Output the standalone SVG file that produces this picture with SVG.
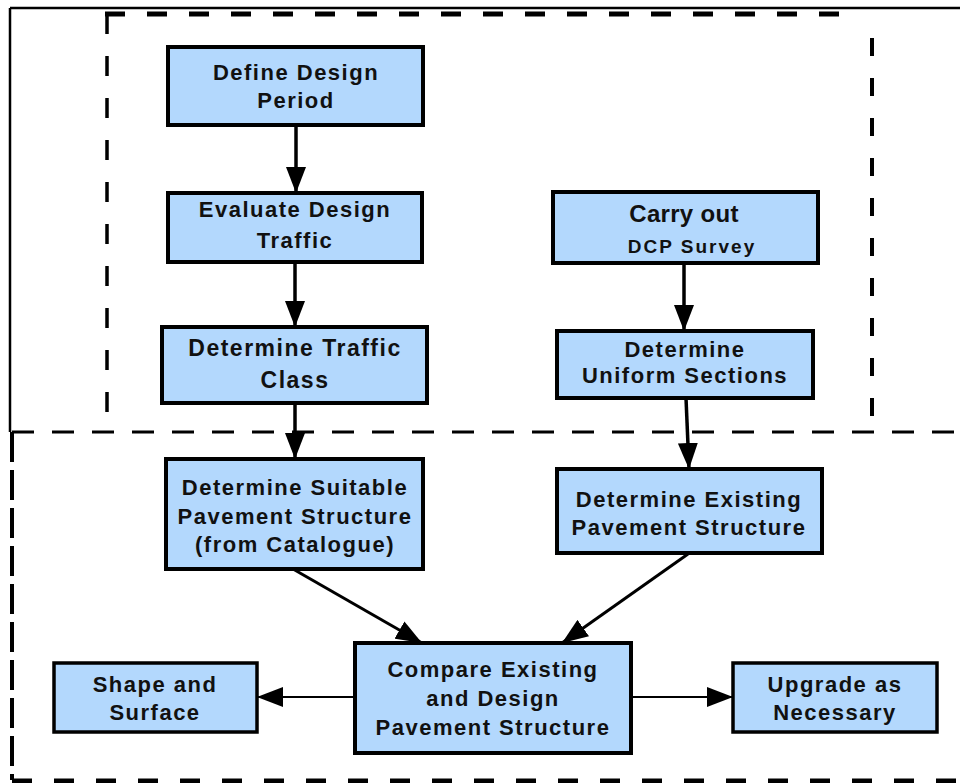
<svg xmlns="http://www.w3.org/2000/svg" width="960" height="783" viewBox="0 0 960 783">
<style>
.box{fill:#b3d8fd;stroke:#000;stroke-width:4}
.t{font-family:"Liberation Sans",Arial,sans-serif;font-weight:bold;font-size:22px;letter-spacing:1.5px;text-anchor:middle;fill:#111}
.dash{fill:none;stroke:#000}
.c{fill:none;stroke:#000}
</style>
<defs>
<marker id="ah" markerUnits="userSpaceOnUse" markerWidth="26" markerHeight="20" refX="26" refY="10" orient="auto" viewBox="0 0 26 20">
<path d="M0,0 L26,10 L0,20 z" fill="#000"/>
</marker>
</defs>
<rect width="960" height="783" fill="#fff"/>
<g id="frames">
<path class="dash" d="M10,8 H960 M10,8 V432" stroke-width="2.5"/>
<path class="dash" d="M105,14 H860" stroke-width="5" stroke-dasharray="20 22"/>
<path class="dash" d="M107,14 V415" stroke-width="3.5" stroke-dasharray="20 22"/>
<path class="dash" d="M872,38 V432" stroke-width="4" stroke-dasharray="18 22"/>
<path class="dash" d="M12,432 H960" stroke-width="3" stroke-dasharray="22 18"/>
<path class="dash" d="M12,432 V780" stroke-width="4" stroke-dasharray="30 8"/>
<path class="dash" d="M12,781 H960" stroke-width="5" stroke-dasharray="20 22"/>
</g>
<g id="connectors">
<line class="c" x1="296" y1="125" x2="296" y2="193" stroke-width="3.5" marker-end="url(#ah)"/>
<line class="c" x1="295" y1="262" x2="295" y2="327" stroke-width="3.5" marker-end="url(#ah)"/>
<line class="c" x1="295" y1="403" x2="295" y2="459" stroke-width="3.5" marker-end="url(#ah)"/>
<line class="c" x1="684" y1="263" x2="684" y2="331" stroke-width="3.5" marker-end="url(#ah)"/>
<line class="c" x1="686" y1="398" x2="689" y2="469" stroke-width="3.5" marker-end="url(#ah)"/>
<line class="c" x1="293" y1="569" x2="422" y2="643" stroke-width="3" marker-end="url(#ah)"/>
<line class="c" x1="688" y1="554" x2="562" y2="643" stroke-width="3" marker-end="url(#ah)"/>
<line class="c" x1="355" y1="697" x2="257" y2="697" stroke-width="2" marker-end="url(#ah)"/>
<line class="c" x1="631" y1="697" x2="733" y2="697" stroke-width="2" marker-end="url(#ah)"/>
</g>
<g id="n1"><rect class="box" x="168" y="47" width="255" height="78"/>
<text class="t" x="296" y="80">Define Design</text><text class="t" x="296" y="108">Period</text></g>
<g id="n2"><rect class="box" x="168" y="193" width="254" height="69"/>
<text class="t" x="295" y="217">Evaluate Design</text><text class="t" x="295" y="248">Traffic</text></g>
<g id="n3"><rect class="box" x="162" y="327" width="265" height="76"/>
<text class="t" x="295" y="356" style="font-size:23px">Determine Traffic</text><text class="t" x="295" y="388" style="font-size:23px">Class</text></g>
<g id="n4"><rect class="box" x="166" y="459" width="257" height="110"/>
<text class="t" x="295" y="495">Determine Suitable</text><text class="t" x="295" y="524">Pavement Structure</text><text class="t" x="295" y="552">(from Catalogue)</text></g>
<g id="n5"><rect class="box" x="553" y="192" width="265" height="71"/>
<text class="t" x="684" y="222" style="font-size:24px;letter-spacing:0.3px">Carry out</text><text class="t" x="692" y="253" style="font-size:19px;letter-spacing:2px">DCP Survey</text></g>
<g id="n6"><rect class="box" x="557" y="331" width="256" height="67"/>
<text class="t" x="685" y="357">Determine</text><text class="t" x="685" y="383">Uniform Sections</text></g>
<g id="n7"><rect class="box" x="557" y="469" width="265" height="84"/>
<text class="t" x="689" y="507">Determine Existing</text><text class="t" x="689" y="535">Pavement Structure</text></g>
<g id="n8"><rect class="box" x="355" y="643" width="276" height="110"/>
<text class="t" x="493" y="677">Compare Existing</text><text class="t" x="493" y="706">and Design</text><text class="t" x="493" y="735">Pavement Structure</text></g>
<g id="n9"><rect class="box" x="54" y="663" width="203" height="69" style="stroke-width:3.5px"/>
<text class="t" x="155" y="692">Shape and</text><text class="t" x="155" y="720">Surface</text></g>
<g id="n10"><rect class="box" x="733" y="663" width="204" height="69" style="stroke-width:3.5px"/>
<text class="t" x="835" y="692">Upgrade as</text><text class="t" x="835" y="720">Necessary</text></g>
</svg>
